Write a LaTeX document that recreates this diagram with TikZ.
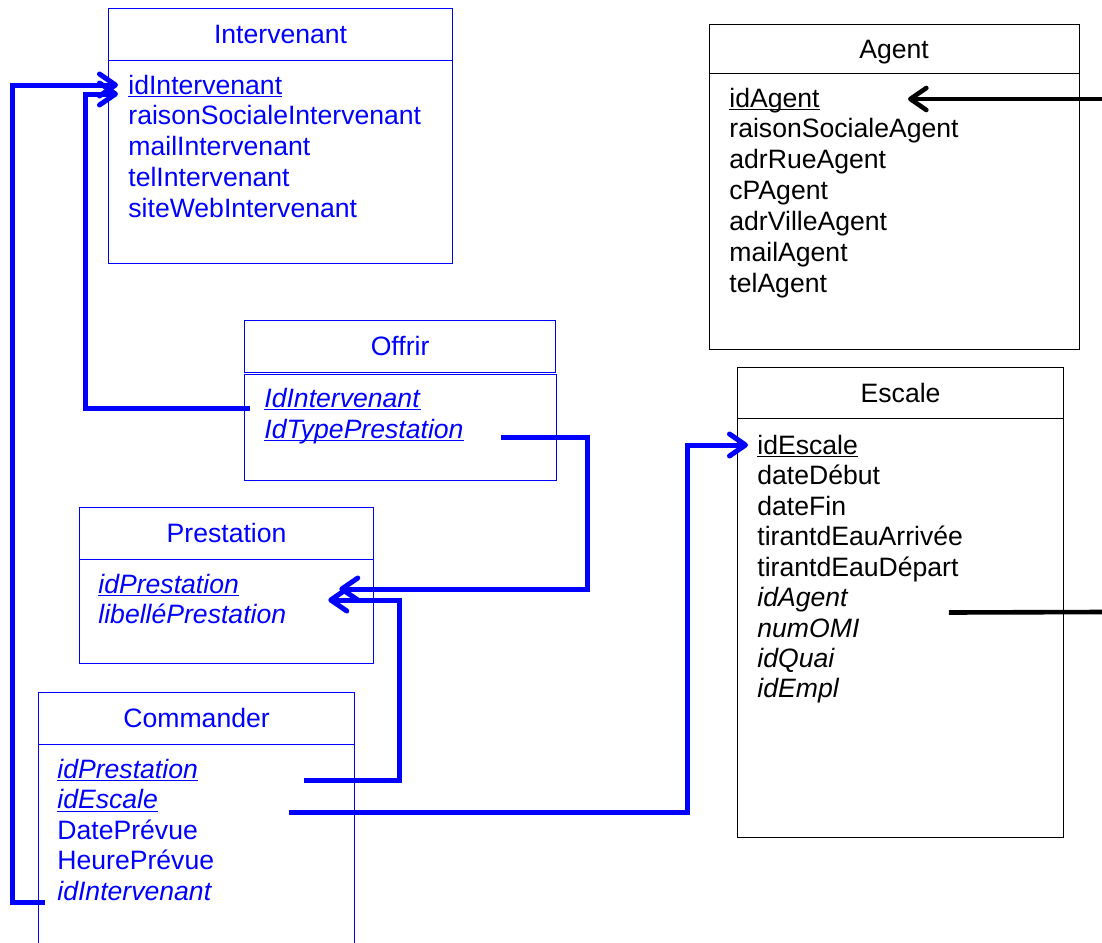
\documentclass[tikz,border=0pt]{standalone}
\usepackage{fontspec}
\setmainfont{Liberation Sans}
\usetikzlibrary{arrows.meta}
\definecolor{bleu}{RGB}{0,0,255}
\newcommand{\souligne}[1]{\setbox0\hbox{#1}\rlap{\rule[-1.6pt]{\wd0}{0.6pt}}\box0}

\begin{document}
\begin{tikzpicture}[x=0.5pt,y=-0.5pt]
                        \tikzstyle{every node}=[font=\fontsize{13.3}{15.4}\selectfont]
                        \tikzstyle{titre}=[draw, anchor=north west, inner sep=0pt, line width=0.6pt, text height=9.5pt, text depth=0pt]
                        \tikzstyle{corps}=[draw, anchor=north west, inner sep=0pt, line width=0.6pt]
                        \tikzstyle{attr}=[anchor=base west, inner sep=0pt]
                        \tikzstyle{battr}=[attr, bleu]
                        \tikzstyle{lien}=[bleu, line width=2.5pt, -{Straight Barb[length=8pt,width=11pt,round]}]
                        \tikzstyle{trait}=[line width=2.3pt]
                        \useasboundingbox (0,0) rectangle (1102,942);
                        \clip (0,0) rectangle (1102,942);

                        \node[titre, bleu, minimum width=172pt, minimum height=25.75pt] (intTitre) at (108,8) {Intervenant};
                        \node[corps, bleu, minimum width=172pt, minimum height=101.75pt] (intCorps) at (108,59.5) {};
                        \node[battr] (intIdInt) at (128,94) {\souligne{idIntervenant}};
                        \node[battr] (intRaison) at (128,124.5) {raisonSocialeIntervenant};
                        \node[battr] (intMail) at (128,155.5) {mailIntervenant};
                        \node[battr] (intTel) at (128,186) {telIntervenant};
                        \node[battr] (intSite) at (128,217) {siteWebIntervenant};

                        \node[titre, minimum width=185pt, minimum height=24.75pt] (agtTitre) at (708.5,23.5) {Agent};
                        \node[corps, minimum width=185pt, minimum height=138pt] (agtCorps) at (708.5,73) {};
                        \node[attr] (agtIdAgt) at (729,107) {\souligne{idAgent}};
                        \node[attr] (agtRaison) at (729,137.5) {raisonSocialeAgent};
                        \node[attr] (agtRue) at (729,168.5) {adrRueAgent};
                        \node[attr] (agtCP) at (729,199) {cPAgent};
                        \node[attr] (agtVille) at (729,230) {adrVilleAgent};
                        \node[attr] (agtMail) at (729,261) {mailAgent};
                        \node[attr] (agtTel) at (729,292) {telAgent};

                        \node[titre, bleu, minimum width=155.5pt, minimum height=25.85pt] (offTitre) at (244,320) {Offrir};
                        \node[corps, bleu, minimum width=156pt, minimum height=53pt] (offCorps) at (244,373.5) {};
                        \node[battr] (offIdInt) at (264,407) {\souligne{\textit{IdIntervenant}}};
                        \node[battr] (offIdType) at (264,438) {\souligne{\textit{IdTypePrestation}}};

                        \node[titre, minimum width=163pt, minimum height=25.75pt] (escTitre) at (737,366.5) {Escale};
                        \node[corps, minimum width=163pt, minimum height=209.5pt] (escCorps) at (737,418) {};
                        \node[attr] (escIdEsc) at (757,454) {\souligne{idEscale}};
                        \node[attr] (escDebut) at (757,484.5) {dateDébut};
                        \node[attr] (escFin) at (757,515) {dateFin};
                        \node[attr] (escArr) at (757,545.5) {tirantdEauArrivée};
                        \node[attr] (escDep) at (757,576) {tirantdEauDépart};
                        \node[attr] (escIdAgt) at (757,606.5) {\textit{idAgent}};
                        \node[attr] (escOMI) at (757,637) {\textit{numOMI}};
                        \node[attr] (escQuai) at (757,667) {\textit{idQuai}};
                        \node[attr] (escEmpl) at (757,697.5) {\textit{idEmpl}};

                        \node[titre, bleu, minimum width=147pt, minimum height=25.75pt] (preTitre) at (79,507) {Prestation};
                        \node[corps, bleu, minimum width=147pt, minimum height=52pt] (preCorps) at (79,558.5) {};
                        \node[battr] (preIdPre) at (98,593) {\souligne{\textit{idPrestation}}};
                        \node[battr] (preLib) at (98,623.5) {\textit{libelléPrestation}};

                        \node[titre, bleu, minimum width=158pt, minimum height=25.75pt] (cmdTitre) at (38,692) {Commander};
                        \node[corps, bleu, minimum width=158pt, minimum height=120pt] (cmdCorps) at (38,743.5) {};
                        \node[battr] (cmdIdPre) at (57,778) {\souligne{\textit{idPrestation}}};
                        \node[battr] (cmdIdEsc) at (57,808.5) {\souligne{\textit{idEscale}}};
                        \node[battr] (cmdDate) at (57,839) {DatePrévue};
                        \node[battr] (cmdHeure) at (57,869.5) {HeurePrévue};
                        \node[battr] (cmdIdInt) at (57,900) {\textit{idIntervenant}};

                        \coordinate (bordAgt) at (1102,99);
                        \coordinate (bordEsc) at (1102,612);

                        \draw[lien] ([xshift=-6pt,yshift=-1pt]cmdIdInt.base west) -- ++(-33,0) |- ([xshift=-5pt,yshift=4.5pt]intIdInt.base west);
                        \draw[lien] ([xshift=-7pt,yshift=-0.5pt]offIdInt.base west) -- ++(-165,0) |- ([xshift=-5pt]intIdInt.base west);
                        \draw[lien] ([xshift=18.5pt,yshift=0.5pt]offIdType.base east) -- ++(87,0) |- ([xshift=50pt,yshift=2pt]preIdPre.base east);
                        \draw[lien] ([xshift=53pt,yshift=-1pt]cmdIdPre.base east) -- ++(95,0) |- ([xshift=44.5pt,yshift=-3.5pt]preIdPre.base east);
                        \draw[lien] ([xshift=65.5pt,yshift=-2pt]cmdIdEsc.base east) -- ++(398,0) |- ([xshift=-4.5pt,yshift=4.5pt]escIdEsc.base west);
                        \draw[trait, -{Straight Barb[length=8pt,width=11pt,round]}] (bordAgt) -- ([xshift=44pt,yshift=4pt]agtIdAgt.base east);
                        \draw[trait] ([xshift=50pt,yshift=-3pt]escIdAgt.base east) -- (bordEsc);
                    \end{tikzpicture}
\end{document}
